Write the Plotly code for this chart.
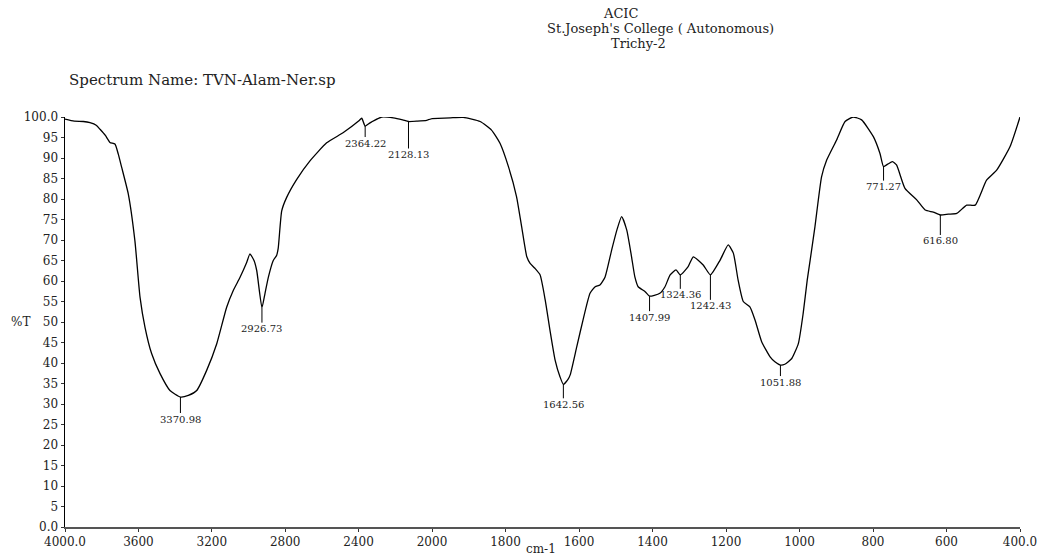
import plotly.graph_objects as go

# ---------------- data ----------------
# region 4000-2000 cm-1 (compressed scale)
wn_high = [4000, 3950, 3900, 3864, 3830, 3809, 3780, 3755, 3728, 3710, 3691, 3655,
           3619, 3591, 3564, 3528, 3482, 3428, 3370.98, 3328, 3282, 3228, 3173, 3119,
           3083, 3046, 3010, 2992, 2970, 2955, 2926.73, 2910, 2892, 2865, 2847, 2838,
           2819, 2792, 2737, 2665, 2574, 2483, 2400, 2383, 2364.22, 2340, 2329, 2274,
           2211, 2160, 2128.13, 2080, 2029, 2000]
t_high = [99.5, 99.0, 98.9, 98.6, 98.0, 97.0, 95.5, 93.8, 93.4, 91.0, 87.7, 81.2,
          69.8, 56.0, 48.7, 42.3, 37.4, 33.3, 31.7, 32.1, 33.3, 38.2, 44.7, 53.6,
          57.7, 60.9, 64.5, 66.6, 65.0, 62.5, 53.5, 57.0, 60.9, 65.0, 66.2, 68.0,
          77.1, 80.4, 84.8, 89.3, 93.7, 96.2, 99.0, 99.7, 97.8, 98.5, 98.8, 100.0,
          99.8, 99.3, 98.9, 99.0, 99.2, 99.6]

# region 2000-400 cm-1 (expanded scale)
wn_low = [2000, 1950, 1915, 1869, 1838, 1815, 1792, 1770, 1756, 1742, 1733, 1720,
          1706, 1692, 1679, 1665, 1652, 1642.56, 1630, 1624, 1606, 1588, 1570, 1556,
          1543, 1529, 1511, 1497, 1484, 1470, 1457, 1448, 1439, 1420, 1407.99, 1395,
          1380, 1366, 1352, 1336, 1324.36, 1303, 1289, 1262, 1242.43, 1216, 1194,
          1180, 1167, 1153, 1135, 1121, 1103, 1080, 1067, 1051.88, 1040, 1021, 1003,
          990, 979, 971, 958, 940, 926, 899, 876, 854, 831, 799, 781, 771.27, 760,
          747, 736, 713, 681, 658, 636, 616.80, 595, 572, 545, 522, 491, 463, 427, 400]
t_low = [99.6, 99.8, 99.9, 98.9, 96.8, 93.6, 87.9, 80.6, 73.2, 65.9, 64.3, 63.1,
         61.5, 55.4, 48.0, 40.7, 36.7, 34.8, 36.0, 37.1, 44.0, 50.9, 57.0, 58.6,
         59.0, 61.0, 67.6, 72.4, 75.7, 72.4, 65.9, 61.0, 58.6, 57.4, 56.3, 56.5,
         57.0, 58.6, 61.5, 62.7, 61.5, 63.5, 65.9, 63.9, 61.5, 65.1, 68.8,
         66.8, 60.2, 55.0, 53.7, 50.5, 45.2, 41.5, 40.3, 39.5, 39.7, 41.1, 44.8,
         52.1, 60.2, 65.1, 73.2, 85.4, 89.5, 94.4, 98.9, 100.0, 99.3, 95.2, 91.1, 87.9, 88.5,
         89.1, 88.3, 82.6, 79.8, 77.3, 76.8, 76.1, 76.3, 76.5, 78.5, 78.5, 84.6, 87.1, 92.8, 100.0]

peak_wn = [3370.98, 2926.73, 2364.22, 2128.13, 1642.56, 1407.99, 1324.36,
           1242.43, 1051.88, 771.27, 616.80]
peak_t = [31.7, 53.5, 97.8, 98.9, 34.8, 56.3, 61.5, 61.5, 39.5, 87.9, 76.1]

x_ticks_high = [4000, 3600, 3200, 2800, 2400, 2000]
x_ticklabels_high = ["4000.0", "3600", "3200", "2800", "2400", "2000"]
x_ticks_low = [1800, 1600, 1400, 1200, 1000, 800, 600, 400]
x_ticklabels_low = ["1800", "1600", "1400", "1200", "1000", "800", "600", "400.0"]
y_ticks = list(range(0, 101, 5))
y_ticklabels = ["0.0"] + [str(v) for v in range(5, 100, 5)] + ["100.0"]

header_lines = ["ACIC", "St.Joseph's College ( Autonomous)", "Trichy-2"]
spectrum_name = "Spectrum Name: TVN-Alam-Ner.sp"

# ---------------- styling / layout helpers ----------------
W, H = 1037, 557
L, R, T, B = 65, 17, 117, 30
split = 367 / 955.0           # fraction of width used by 4000-2000 region
label_drop = [22, 21, 17, 33, 20, 21, 20, 31, 17, 20, 26]   # px, label below peak
SERIF = "DejaVu Serif"


def px_to_paper(px, py):
    return (px - L) / (W - L - R), (H - B - py) / (H - T - B)


fig = go.Figure()
line_style = dict(color="black", width=1.3, shape="spline", smoothing=0.5)
fig.add_trace(go.Scatter(x=wn_high, y=t_high, mode="lines", line=line_style,
                         xaxis="x", yaxis="y", showlegend=False, hoverinfo="skip"))
fig.add_trace(go.Scatter(x=wn_low, y=t_low, mode="lines", line=line_style,
                         xaxis="x2", yaxis="y", showlegend=False, hoverinfo="skip"))

annotations = []
for w, t, d in zip(peak_wn, peak_t, label_drop):
    annotations.append(dict(
        x=w, y=t, xref="x" if w >= 2000 else "x2", yref="y",
        text=f"{w:.2f}", showarrow=True, arrowhead=0, arrowwidth=1,
        arrowcolor="black", ax=0, ay=d, standoff=0, borderpad=0,
        font=dict(family=SERIF, size=10, color="#222")))

header_pos = [(620, 13), (660, 28), (638, 43)]
for txt, (hx, hy) in zip(header_lines, header_pos):
    xp, yp = px_to_paper(hx, hy)
    annotations.append(dict(x=xp, y=yp, xref="paper", yref="paper", text=txt,
                            showarrow=False, xanchor="center", yanchor="middle",
                            borderpad=0,
                            font=dict(family=SERIF, size=13, color="#222")))

xp, yp = px_to_paper(67, 80)
annotations.append(dict(x=xp, y=yp, xref="paper", yref="paper", text=spectrum_name,
                        showarrow=False, xanchor="left", yanchor="middle",
                        font=dict(family=SERIF, size=15, color="#222")))
xp, yp = px_to_paper(20, 322)
annotations.append(dict(x=xp, y=yp, xref="paper", yref="paper", text="%T",
                        showarrow=False, xanchor="center", yanchor="middle",
                        font=dict(family=SERIF, size=12, color="#222")))
xp, yp = px_to_paper(541, 549)
annotations.append(dict(x=xp, y=yp, xref="paper", yref="paper", text="cm-1",
                        showarrow=False, xanchor="center", yanchor="middle",
                        font=dict(family=SERIF, size=12, color="#222")))

axis_font = dict(family=SERIF, size=12, color="#222")
common_x = dict(showgrid=False, zeroline=False, showline=True, linecolor="#555",
                linewidth=1.5, ticks="outside", ticklen=3, tickcolor="#333",
                tickfont=axis_font, anchor="y", fixedrange=True, automargin=False,
                ticklabeloverflow="allow")

fig.update_layout(
    width=W, height=H,
    margin=dict(l=L, r=R, t=T, b=B, pad=0, autoexpand=False),
    paper_bgcolor="white", plot_bgcolor="white",
    xaxis=dict(domain=[0, split], range=[4000, 2000], tickmode="array",
               tickvals=x_ticks_high, ticktext=x_ticklabels_high, **common_x),
    xaxis2=dict(domain=[split, 1], range=[2000, 400], tickmode="array",
                tickvals=x_ticks_low, ticktext=x_ticklabels_low, **common_x),
    yaxis=dict(range=[0, 100], tickmode="array", tickvals=y_ticks,
               ticktext=y_ticklabels, showgrid=False, zeroline=False,
               showline=True, linecolor="black", linewidth=1.5,
               ticks="outside", ticklen=3, tickcolor="#333",
               tickfont=axis_font, anchor="x", fixedrange=True, automargin=False,
               ticklabeloverflow="allow"),
    annotations=annotations,
    hovermode=False,
)

fig.write_html(
    "out.html",
    config={"displayModeBar": False, "staticPlot": True},
    post_script="document.body.style.margin='0px';document.body.style.overflow='hidden';",
)
